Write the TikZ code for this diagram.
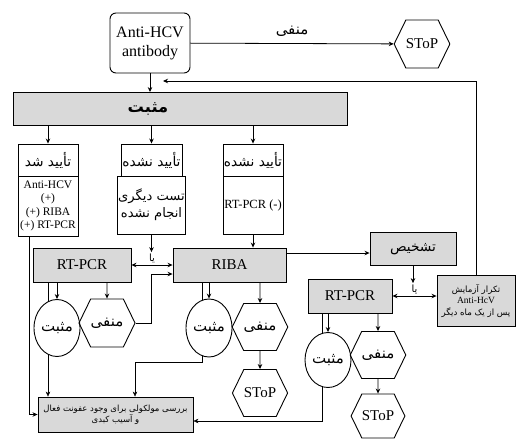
\documentclass[tikz,border=0pt]{standalone}
\usepackage{fontspec}
\setmainfont{Liberation Serif}
\newfontfamily\farsi[Script=Arabic, Scale=1.25]{DejaVu Sans}
\TeXXeTstate=1
\newcommand\fa[1]{{\farsi\beginR #1\endR}}
\usepackage{tikz}
\usetikzlibrary{shapes.geometric, shapes.symbols, arrows.meta, positioning, backgrounds, calc}

\begin{document}
\begin{tikzpicture}[x=1pt, y=-1pt, >={Stealth[length=5pt, width=4.5pt]},
  line width=0.8pt, font=\fontsize{12}{14}\selectfont,
  box/.style={draw, line width=0.9pt, inner sep=1pt, align=center},
  graybox/.style={box, fill=gray!30, minimum height=34pt},
  hexa/.style={draw, line width=0.9pt, signal, signal to=east and west,
    signal pointer angle=128, minimum width=48pt, minimum height=48pt, inner sep=0pt},
  oval/.style={draw, line width=0.9pt, ellipse, fill=white, minimum width=46pt,
    minimum height=57pt, inner sep=0pt}]
  \useasboundingbox (0,0) rectangle (516,439);

  % top row
  \node[box, rounded corners=6pt, minimum width=80pt, minimum height=60pt,
    font=\fontsize{16}{19}\selectfont] (ab) at (150,43) {Anti-HCV\\antibody};
  \node[hexa, font=\fontsize{15}{17}\selectfont] (stop0) at (422,44) {SToP};
  \node[box, fill=gray!30, minimum width=334pt, minimum height=33pt,
    label={[xshift=-32pt, font=\fontsize{13}{15}\bfseries]center:\fa{مثبت}}] (pos) at (180,109) {};
  \coordinate (fb) at (163,81);

  % three results
  \node[box, minimum width=60pt, minimum height=32pt, font=\fontsize{11}{13}\selectfont]
    (hdrA) at (48,160) {\fa{تأیید شد}};
  \node[box, minimum width=60pt, minimum height=60pt, font=\fontsize{11.5}{13.5}\selectfont]
    (resA) [below=-0.9pt of hdrA] {Anti-HCV\\(+)\\(+) RIBA\\(+) RT-PCR};
  \node[box, minimum width=61pt, minimum height=32pt, font=\fontsize{11}{13}\selectfont]
    (hdrB) at (151.5,160) {\fa{تأیید نشده}};
  \node[box, minimum width=61pt, minimum height=58pt, font=\fontsize{10.5}{17}\selectfont]
    (resB) [below=-0.9pt of hdrB] {\fa{تست دیگری}\\\fa{انجام نشده}};
  \node[box, minimum width=60pt, minimum height=32pt, font=\fontsize{11}{13}\selectfont]
    (hdrC) at (253,160) {\fa{تأیید نشده}};
  \node[box, minimum width=60pt, minimum height=58pt, font=\fontsize{12.5}{14}\selectfont]
    (resC) [below=-0.9pt of hdrC] {RT-PCR (-)};

  % tests
  \node[graybox, minimum width=98pt, font=\fontsize{15}{17}\selectfont] (rtL) at (82,265) {RT-PCR};
  \node[graybox, minimum width=113pt, font=\fontsize{15}{17}\selectfont] (riba) at (229.5,265) {RIBA};
  \node[graybox, minimum width=86pt, minimum height=33pt, font=\fontsize{11}{13}\selectfont]
    (diag) at (413,249) {\fa{تشخیص}};
  \coordinate (diagIn) at ([yshift=-4pt]diag.west);
  \node[graybox, minimum width=84pt, font=\fontsize{15}{17}\selectfont] (rtR) at (350,296) {RT-PCR};
  \node[graybox, minimum width=78pt, minimum height=51pt, font=\fontsize{6.9}{11.5}\selectfont]
    (rep) at (476,300.5) {\fa{تکرار آزمایش}\\{\fontsize{9.5}{11}\selectfont Anti-HcV}\\\fa{پس از یک ماه دیگر}};

  % outcomes
  \node[oval] (posL) at (57,328) {\fa{مثبت}};
  \node[hexa] (negL) at (107,323) {\fa{منفی}};
  \node[oval, minimum height=58pt] (posM) at (209,328) {\fa{مثبت}};
  \node[hexa, minimum height=47pt] (negM) at (260,327) {\fa{منفی}};
  \node[hexa, minimum height=47pt, font=\fontsize{15}{17}\selectfont] (stopM) at (260,393) {SToP};
  \node[oval, minimum height=55pt] (posR) at (328,360) {\fa{مثبت}};
  \node[hexa, minimum height=47pt] (negR) at (378,355) {\fa{منفی}};
  \node[hexa, minimum height=44pt, font=\fontsize{15}{17}\selectfont] (stopR) at (378,416) {SToP};
  \node[graybox, minimum width=155pt, minimum height=35pt, font=\fontsize{6.8}{11}\selectfont]
    (bot) at (115.5,414.5) {\fa{بررسی مولکولی برای وجود عفونت فعال}\\\fa{و آسیب کبدی}};

  \path[->]
    (ab) edge node[above=3pt, font=\fontsize{12}{14}\selectfont] {\fa{منفی}} (stop0)
    (ab) edge (ab |- pos.north)
    (pos.south -| hdrA) edge (hdrA)
    (pos.south -| hdrB) edge (hdrB)
    (pos.south -| hdrC) edge (hdrC)
    (resC) edge (resC |- riba.north)
    (riba.east |- diagIn) edge (diagIn)
    (rtL.south -| posL) edge (posL)
    (rtL.south -| negL) edge (negL)
    (riba.south -| posM) edge (posM)
    (riba.south -| negM) edge (negM)
    (negM) edge (stopM)
    (rtR.south -| posR) edge (posR)
    (rtR.south -| negR) edge (negR)
    (negR) edge (stopR);

  \draw[<->] (rtL) -- node[above=1pt, inner sep=1pt, font=\fontsize{8}{10}\selectfont] (orL) {\fa{یا}} (riba);
  \draw[->] (resB) -- (resB |- orL.north);
  \draw[<->] (rtR.east) -- node[above=1pt, inner sep=1pt, font=\fontsize{8}{10}\selectfont] (orR) {\fa{یا}} (rtR.east -| rep.west);
  \draw[->] (diag) -- (diag |- orR.north);
  \draw[->] (rep.north) |- (fb);
  \draw[->] ([xshift=-19pt]resA.south) |- (bot.west);
  \draw[->] (negL.east) -- ++(16,0) |- ([yshift=-9pt]riba.west);

  \begin{scope}[on background layer]
    \draw[->] ([xshift=-34pt]rtL.south) -- ([xshift=-34pt]rtL.south |- bot.north);
    \draw[->] ([xshift=-27.5pt]riba.south) -- ++(0,80) -| ([xshift=19.5pt]bot.north);
    \draw[->] ([xshift=-28pt]rtR.south) |- ([yshift=-6.5pt]bot.east);
  \end{scope}
\end{tikzpicture}
\end{document}
